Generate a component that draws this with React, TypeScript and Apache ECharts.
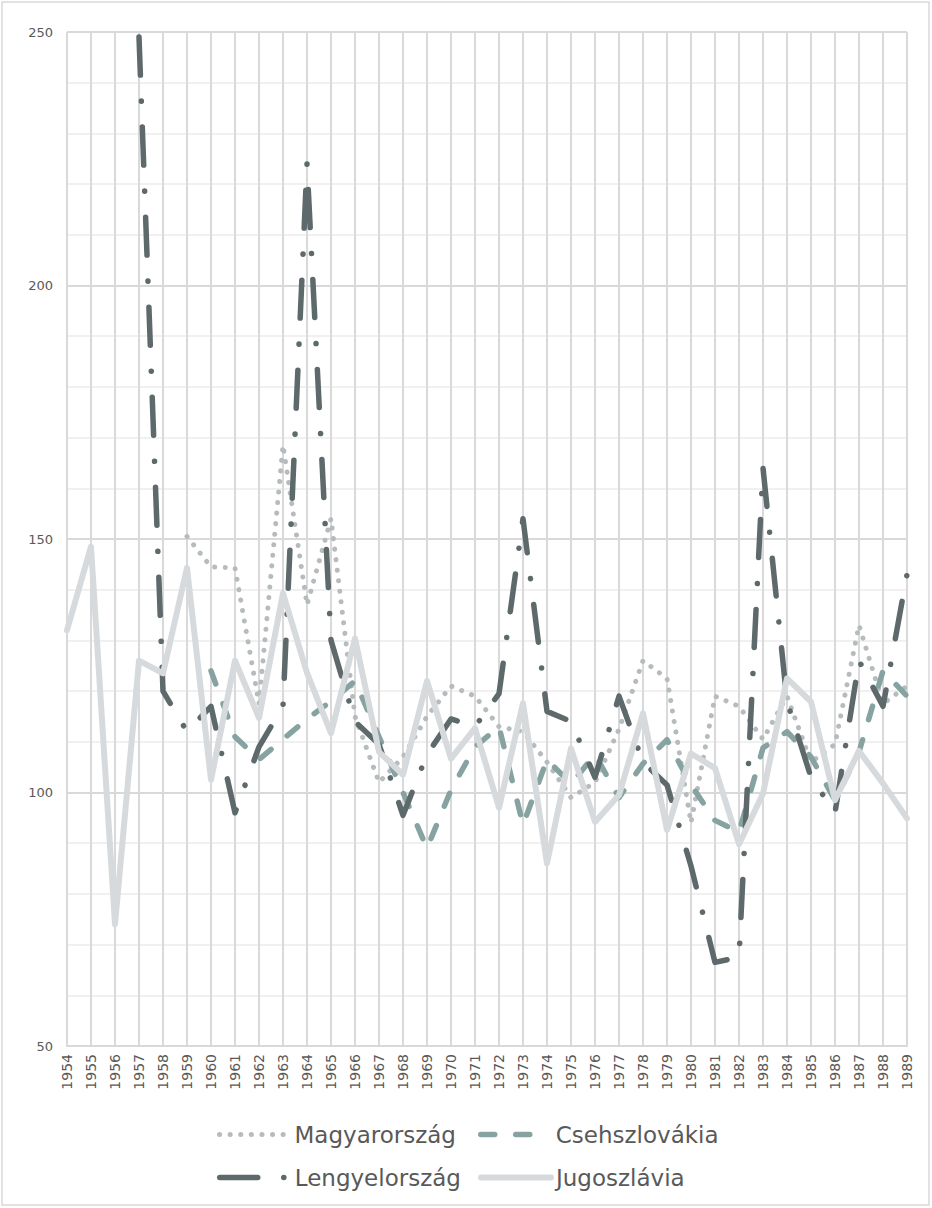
import React, { useEffect, useRef } from "react";
import * as echarts from "echarts";

const years = [
  "1954","1955","1956","1957","1958","1959","1960","1961","1962","1963","1964","1965",
  "1966","1967","1968","1969","1970","1971","1972","1973","1974","1975","1976","1977",
  "1978","1979","1980","1981","1982","1983","1984","1985","1986","1987","1988","1989",
];

const magyarorszag = [
  null, null, null, null, null,
  150.5, 144.5, 144.3, 117.5, 168.5, 137, 154, 115, 102, 107, 115, 121, 119, 113, 112,
  106, 99, 102, 112.5, 126, 122.5, 94, 119, 117, 110.5, 119, 106, 109.5, 133, 117.5, 121,
];

const csehszlovakia = [
  null, null, null, null, null, null,
  124, 111, 106.5, 110.5, 114.5, 118, 122, 111, 100, 89, 100.5, 109, 113, 93.6,
  106.5, 101.7, 107.5, 99, 105.7, 110.4, 101.5, 94.5, 92.2, 108.8, 112, 107, 98.5, 108, 124, 119,
];

const lengyelorszag = [
  null, null, null,
  249, 120, 112, 117, 96, 109, 117, 224, 130, 114, 109.5, 95.5, 107.5, 114.5, 113, 119.5,
  154, 116, 114, 103, 119, 106, 101.5, 85.5, 66.5, 67.5, 164, 118, 103, 96, 126, 117, 143,
];

const jugoszlavia = [
  132, 148.5, 74, 126, 123.5, 144.3, 102.5, 126, 114.7, 139.3, 123.6, 111.7, 130.4, 108,
  103.5, 122, 106.7, 112.7, 97, 117.6, 86, 108.7, 94.2, 99.5, 115.6, 92.6, 107.7, 104.8,
  89.8, 99.8, 122.5, 117.9, 98.5, 108.2, 101.8, 94.9,
];

const FONT = "DejaVu Sans";
const TEXT = "#595959";
const GRIDC = "#d9d9d9";

export default function App() {
  const ref = useRef<HTMLDivElement>(null);
  useEffect(() => {
    document.body.style.margin = "0";
    const chart = echarts.init(ref.current!, null, { renderer: "svg" });
    const legendBase = {
      orient: "horizontal",
      padding: 0,
      itemWidth: 70,
      itemHeight: 14,
      itemGap: 8,
      itemStyle: { color: "rgba(0,0,0,0)", borderColor: "rgba(0,0,0,0)", borderWidth: 0 },
      lineStyle: { width: "inherit", type: "inherit", cap: "round" },
      textStyle: { color: TEXT, fontFamily: FONT, fontSize: 23 },
    };
    chart.setOption({
      animation: false,
      backgroundColor: "#ffffff",
      graphic: [
        {
          type: "rect",
          shape: { x: 2, y: 2, width: 927, height: 1203 },
          style: { fill: "none", stroke: GRIDC, lineWidth: 1.5 },
          silent: true,
        },
      ],
      grid: { left: 67, right: 25, top: 32, bottom: 162, outerBoundsMode: "none" },
      legend: [
        { ...legendBase, left: 217, top: 1123, data: ["Magyarország"] },
        { ...legendBase, left: 478, top: 1123, data: ["Csehszlovákia"] },
        { ...legendBase, left: 217, top: 1166, data: ["Lengyelország"] },
        { ...legendBase, left: 478, top: 1166, data: ["Jugoszlávia"] },
      ],
      xAxis: {
        type: "category",
        data: years,
        boundaryGap: false,
        axisLine: { show: true, lineStyle: { color: GRIDC, width: 2 } },
        axisTick: { show: false },
        axisLabel: {
          rotate: 90,
          interval: 0,
          margin: 8,
          color: TEXT,
          fontFamily: FONT,
          fontSize: 14,
        },
        splitLine: { show: true, interval: 0, lineStyle: { color: GRIDC, width: 2 } },
      },
      yAxis: {
        type: "value",
        min: 50,
        max: 250,
        interval: 50,
        axisLine: { show: false },
        axisTick: { show: false },
        axisLabel: { color: TEXT, fontFamily: FONT, fontSize: 13, margin: 14 },
        splitLine: { show: true, lineStyle: { color: GRIDC, width: 2 } },
        minorTick: { show: false, splitNumber: 5 },
        minorSplitLine: { show: true, lineStyle: { color: "#f0f0f0", width: 2 } },
      },
      series: [
        {
          name: "Magyarország",
          type: "line",
          data: magyarorszag,
          symbol: "none",
          connectNulls: false,
          itemStyle: { color: "#b6bbbe" },
          lineStyle: { color: "#b6bbbe", width: 5, type: [0.1, 10.5], cap: "round", join: "round" },
          z: 2,
        },
        {
          name: "Csehszlovákia",
          type: "line",
          data: csehszlovakia,
          symbol: "none",
          itemStyle: { color: "#86a3a1" },
          lineStyle: { color: "#86a3a1", width: 5.5, type: [14, 21], cap: "round", join: "round" },
          z: 3,
        },
        {
          name: "Lengyelország",
          type: "line",
          data: lengyelorszag,
          symbol: "none",
          itemStyle: { color: "#5e696c" },
          lineStyle: { color: "#5e696c", width: 5.5, type: [38, 26, 0.1, 26], cap: "round", join: "round" },
          z: 4,
        },
        {
          name: "Jugoszlávia",
          type: "line",
          data: jugoszlavia,
          symbol: "none",
          itemStyle: { color: "#d7dadc" },
          lineStyle: { color: "#d7dadc", width: 6, type: "solid", cap: "round", join: "round" },
          z: 5,
        },
      ],
    });
    return () => chart.dispose();
  }, []);
  return <div ref={ref} style={{ width: 932, height: 1208 }} />;
}
